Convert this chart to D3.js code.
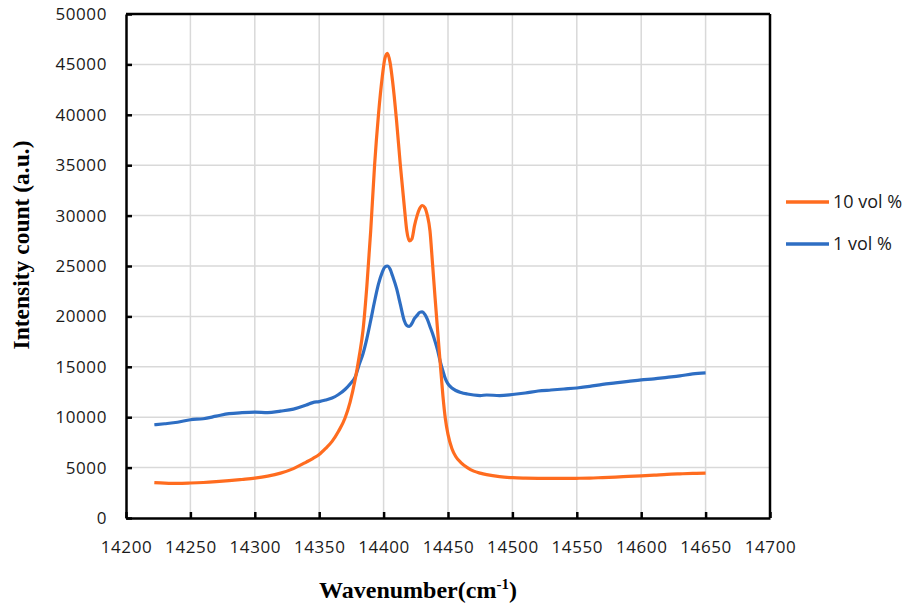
<!DOCTYPE html>
<html><head><meta charset="utf-8">
<script src="https://cdn.jsdelivr.net/npm/d3@7"></script>
<style>body{margin:0;background:#fff}svg{display:block}</style>
</head><body>
<svg id="c" width="906" height="607"></svg>
<script>
const wavenumbers = [14222,14230,14240,14250,14260,14270,14280,14290,14300,14310,14320,14330,14340,14345,14350,14355,14360,14365,14370,14374,14378,14381,14384,14387,14390,14393,14396,14399,14401,14403,14405,14407,14410,14413,14416,14418,14420,14422,14424,14426,14428,14430,14432,14434,14436,14438,14440,14442,14444,14446,14448,14450,14453,14456,14460,14465,14470,14475,14480,14490,14500,14510,14520,14530,14540,14550,14560,14570,14580,14590,14600,14610,14620,14630,14640,14650];
const vol10 = [3500,3450,3440,3470,3520,3600,3700,3820,3950,4150,4450,4900,5550,5900,6300,6900,7600,8600,9900,11500,13800,16000,18600,23000,28500,35000,40000,43800,45600,46100,45200,43300,39500,35000,31000,28500,27500,27700,29000,30000,30700,31000,30800,30000,28500,25200,21800,18500,15300,12200,9800,8300,6900,6100,5500,5000,4650,4450,4300,4100,4000,3960,3940,3930,3930,3940,3960,4010,4060,4120,4180,4250,4330,4380,4420,4450];
const vol1 = [9250,9350,9500,9750,9850,10100,10350,10450,10500,10450,10600,10800,11200,11450,11550,11700,11900,12250,12750,13300,14000,15200,16300,17800,19600,21500,23200,24400,24900,25000,24700,24000,22800,21200,19600,19100,19000,19300,19800,20100,20400,20450,20200,19700,19000,18300,17500,16600,15500,14600,13800,13300,12900,12650,12450,12300,12200,12150,12200,12150,12250,12400,12600,12700,12800,12900,13050,13250,13400,13550,13700,13800,13950,14100,14300,14400];
const xTicks = [14200,14250,14300,14350,14400,14450,14500,14550,14600,14650,14700];
const yTicks = [0,5000,10000,15000,20000,25000,30000,35000,40000,45000,50000];
const seriesNames = ["10 vol %","1 vol %"];
const seriesColors = ["#ff6c1f","#2e6ec3"];

const svg = d3.select("#c");
const L=126, R=770, T=14, B=518;
const x = d3.scaleLinear().domain([14200,14700]).range([L,R]);
const y = d3.scaleLinear().domain([0,50000]).range([B,T]);

// grid
svg.append("g").selectAll("line.v").data(xTicks.slice(1,-1)).join("line")
  .attr("x1",d=>x(d)).attr("x2",d=>x(d)).attr("y1",T).attr("y2",B)
  .attr("stroke","#d9d9d9").attr("stroke-width",1.5);
svg.append("g").selectAll("line.h").data(yTicks.slice(1,-1)).join("line")
  .attr("x1",L).attr("x2",R).attr("y1",d=>y(d)).attr("y2",d=>y(d))
  .attr("stroke","#d9d9d9").attr("stroke-width",1.5);

// axes
const font = "'Open Sans', sans-serif";
const xAxis = svg.append("g").attr("transform",`translate(0,${B})`)
  .call(d3.axisBottom(x).tickValues(xTicks).tickSizeInner(-6).tickSizeOuter(0).tickPadding(23).tickFormat(d3.format("d")));
const yAxis = svg.append("g").attr("transform",`translate(${L},0)`)
  .call(d3.axisLeft(y).tickValues(yTicks).tickSizeInner(-6).tickSizeOuter(0).tickPadding(19).tickFormat(d3.format("d")));
[xAxis,yAxis].forEach(g=>{
  g.select(".domain").attr("stroke","#000").attr("stroke-width",2.5);
  g.selectAll(".tick line").attr("stroke","#000").attr("stroke-width",2.5);
  g.selectAll(".tick text").attr("fill","#1a1a1a").style("font-family",font).style("font-size","17px").style("letter-spacing","0.6px");
});
// top & right border
svg.append("line").attr("x1",L).attr("x2",R).attr("y1",T).attr("y2",T).attr("stroke","#000").attr("stroke-width",2.5);
svg.append("line").attr("x1",R).attr("x2",R).attr("y1",T).attr("y2",B).attr("stroke","#000").attr("stroke-width",2.5);

// lines
const line = vals => d3.line().x((d,i)=>x(wavenumbers[i])).y(d=>y(d)).curve(d3.curveMonotoneX)(vals);
[vol1, vol10].forEach((vals,k)=>{
  svg.append("path").attr("d",line(vals)).attr("fill","none")
    .attr("stroke", seriesColors[k===0?1:0]).attr("stroke-width",3.2).attr("stroke-linejoin","round");
});

// legend
seriesNames.forEach((n,i)=>{
  const ly = 202 + i*42;
  svg.append("line").attr("x1",786).attr("x2",829).attr("y1",ly).attr("y2",ly)
    .attr("stroke",seriesColors[i]).attr("stroke-width",3.5);
  svg.append("text").attr("x",833).attr("y",ly+6).text(n)
    .attr("fill","#1a1a1a").style("font-family",font).style("font-size","18px");
});

// titles
svg.append("text").attr("transform","translate(29,245) rotate(-90)").attr("text-anchor","middle")
  .style("font-family","'Liberation Serif', serif").style("font-weight","bold").style("font-size","23.5px")
  .text("Intensity count (a.u.)");
const xt = svg.append("text").attr("x",418).attr("y",598).attr("text-anchor","middle")
  .style("font-family","'Liberation Serif', serif").style("font-weight","bold").style("font-size","24px");
xt.append("tspan").text("Wavenumber(cm");
xt.append("tspan").attr("dy",-9).style("font-size","15px").text("-1");
xt.append("tspan").attr("dy",9).text(")");
</script>
</body></html>
